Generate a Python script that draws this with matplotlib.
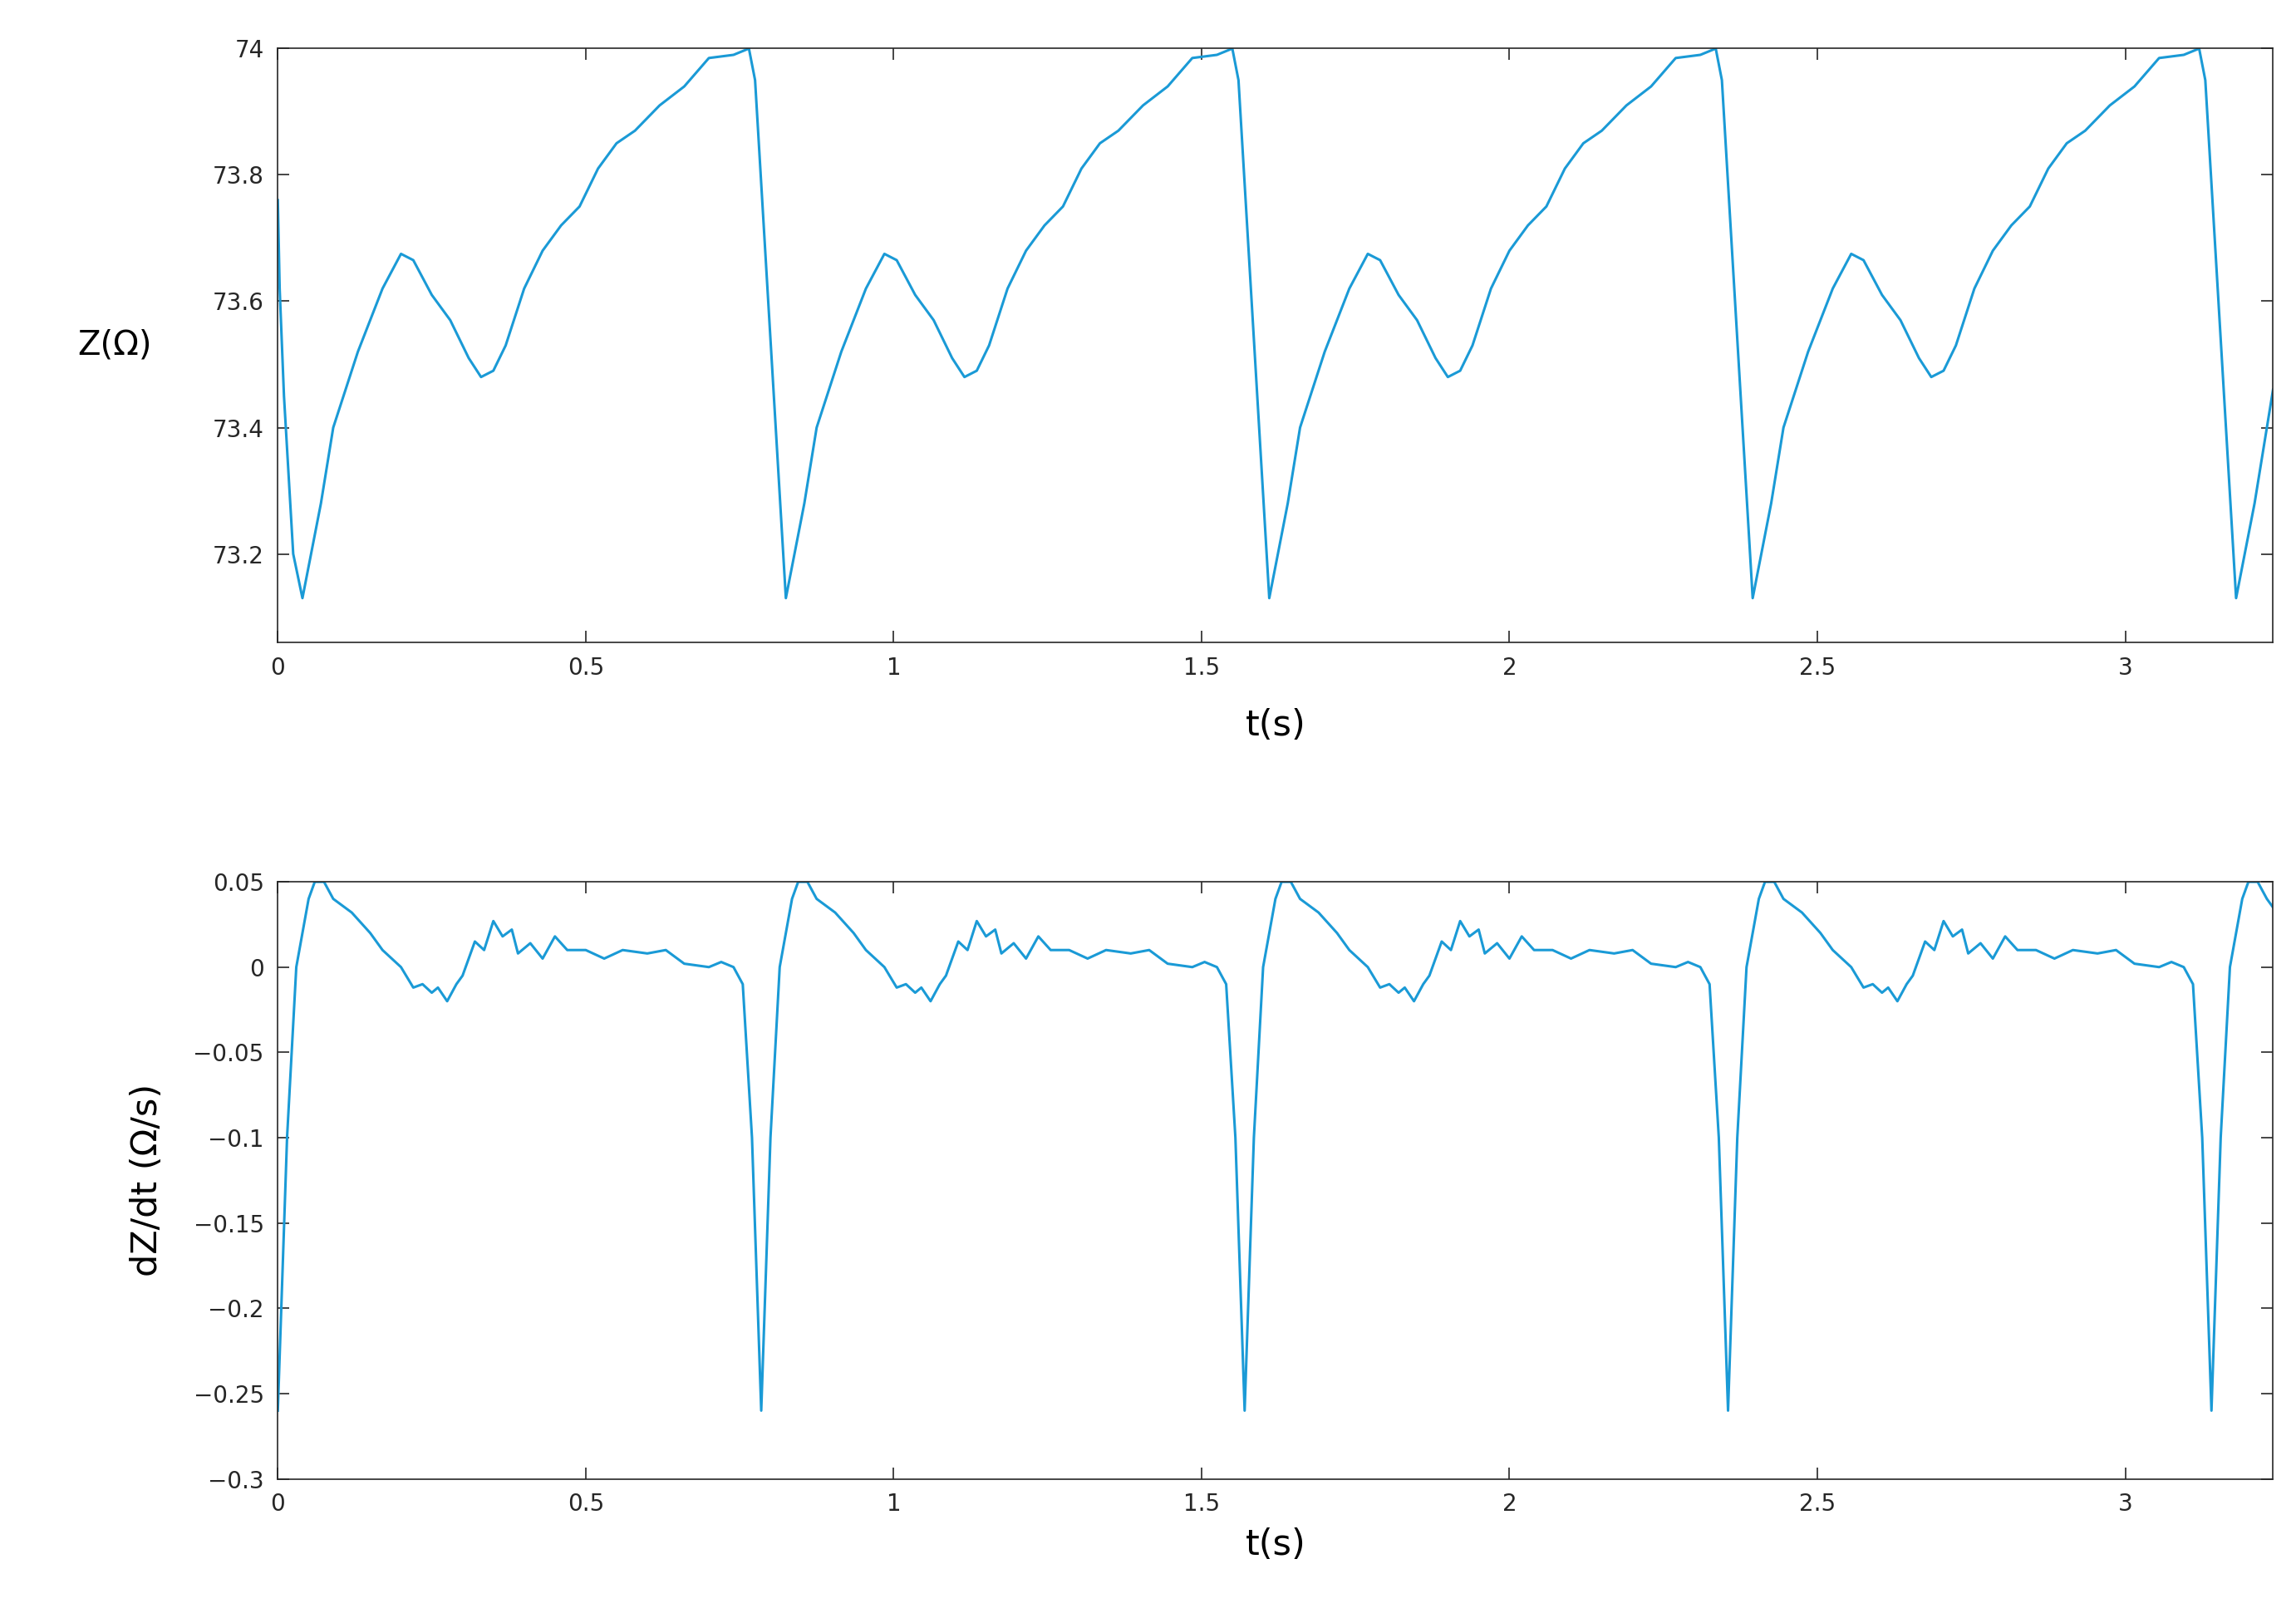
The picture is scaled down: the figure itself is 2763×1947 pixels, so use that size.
import numpy as np
import matplotlib
matplotlib.use("Agg")
import matplotlib.pyplot as plt

period = 0.785
t_end = 3.24
# Z cycle (phase from impedance minimum), values in ohm
z_phase = [0, 0.03, 0.05, 0.09, 0.13, 0.16, 0.18, 0.21, 0.24, 0.27, 0.29, 0.31, 0.33, 0.36, 0.39,
           0.42, 0.45, 0.48, 0.51, 0.54, 0.58, 0.62, 0.66, 0.70, 0.725, 0.735]
z_vals = [73.13, 73.28, 73.40, 73.52, 73.62, 73.675, 73.665, 73.61, 73.57, 73.51, 73.48, 73.49, 73.53,
          73.62, 73.68, 73.72, 73.75, 73.81, 73.85, 73.87, 73.91, 73.94, 73.985, 73.99, 74.0, 73.95]
z_first_min = 0.04
z_start_t = [0.0, 0.003, 0.01, 0.025]
z_start_v = [73.76, 73.62, 73.45, 73.2]
z_end_t = [3.24]
z_end_v = [73.46]

# dZ/dt cycle (phase from derivative spike), values in ohm/s
d_phase = [0, 0.015, 0.03, 0.05, 0.06, 0.075, 0.09, 0.12, 0.15, 0.17, 0.2, 0.22, 0.235, 0.25, 0.26,
           0.275, 0.29, 0.3, 0.32, 0.335, 0.35, 0.365, 0.38, 0.39, 0.41, 0.43, 0.45, 0.47, 0.5, 0.53,
           0.56, 0.6, 0.63, 0.66, 0.7, 0.72, 0.74, 0.755, 0.77]
d_vals = [-0.26, -0.1, 0.0, 0.04, 0.05, 0.05, 0.04, 0.032, 0.02, 0.01, 0.0, -0.012, -0.01, -0.015,
          -0.012, -0.02, -0.01, -0.005, 0.015, 0.01, 0.027, 0.018, 0.022, 0.008, 0.014, 0.005, 0.018,
          0.01, 0.01, 0.005, 0.01, 0.008, 0.01, 0.002, 0.0, 0.003, 0.0, -0.01, -0.1]
d_end_t = [3.24]
d_end_v = [0.035]

def build(phase, vals, t0, pre_t=(), pre_v=(), post_t=(), post_v=()):
    t = list(pre_t); v = list(pre_v)
    k = 0
    while t0 + k * period <= t_end:
        for p, y in zip(phase, vals):
            tt = t0 + k * period + p
            if tt < t_end:
                t.append(tt); v.append(y)
        k += 1
    t += list(post_t); v += list(post_v)
    return np.array(t), np.array(v)

tz, z = build(z_phase, z_vals, z_first_min, z_start_t, z_start_v, z_end_t, z_end_v)
td, d = build(d_phase, d_vals, 0.0, post_t=d_end_t, post_v=d_end_v)

color = "#1a9ad6"
fig = plt.figure(figsize=(27.63, 19.47), dpi=100)
ax1 = fig.add_axes([0.121, 0.603, 0.869, 0.367])
ax2 = fig.add_axes([0.121, 0.086, 0.869, 0.369])

ax1.plot(tz, z, color=color, lw=2.2)
ax1.set_xlim(0, 3.24)
ax1.set_ylim(73.06, 74.0)
ax1.set_yticks([73.2, 73.4, 73.6, 73.8, 74])
ax1.set_yticklabels(["73.2", "73.4", "73.6", "73.8", "74"])
ax1.set_ylabel("Z(Ω)", rotation=0, fontsize=29, labelpad=85, va="center")
ax1.set_xlabel("t(s)", fontsize=31, labelpad=25)

ax2.plot(td, d, color=color, lw=2.2)
ax2.set_xlim(0, 3.24)
ax2.set_ylim(-0.3, 0.05)
ax2.set_yticks([-0.3, -0.25, -0.2, -0.15, -0.1, -0.05, 0, 0.05])
ax2.set_yticklabels(["\u22120.3", "\u22120.25", "\u22120.2", "\u22120.15", "\u22120.1", "\u22120.05", "0", "0.05"])
ax2.set_ylabel("dZ/dt (Ω/s)", fontsize=31, labelpad=25)
ax2.set_xlabel("t(s)", fontsize=31, labelpad=10)

for ax in (ax1, ax2):
    ax.set_xticks([0, 0.5, 1, 1.5, 2, 2.5, 3])
    ax.set_xticklabels(["0", "0.5", "1", "1.5", "2", "2.5", "3"])
    ax.tick_params(direction="in", top=True, right=True, labelsize=20, length=10, width=1.2, pad=12,
                   colors="#262626")
    for s in ax.spines.values():
        s.set_color("#262626"); s.set_linewidth(1.2)

fig.savefig("out.png", dpi=100)
